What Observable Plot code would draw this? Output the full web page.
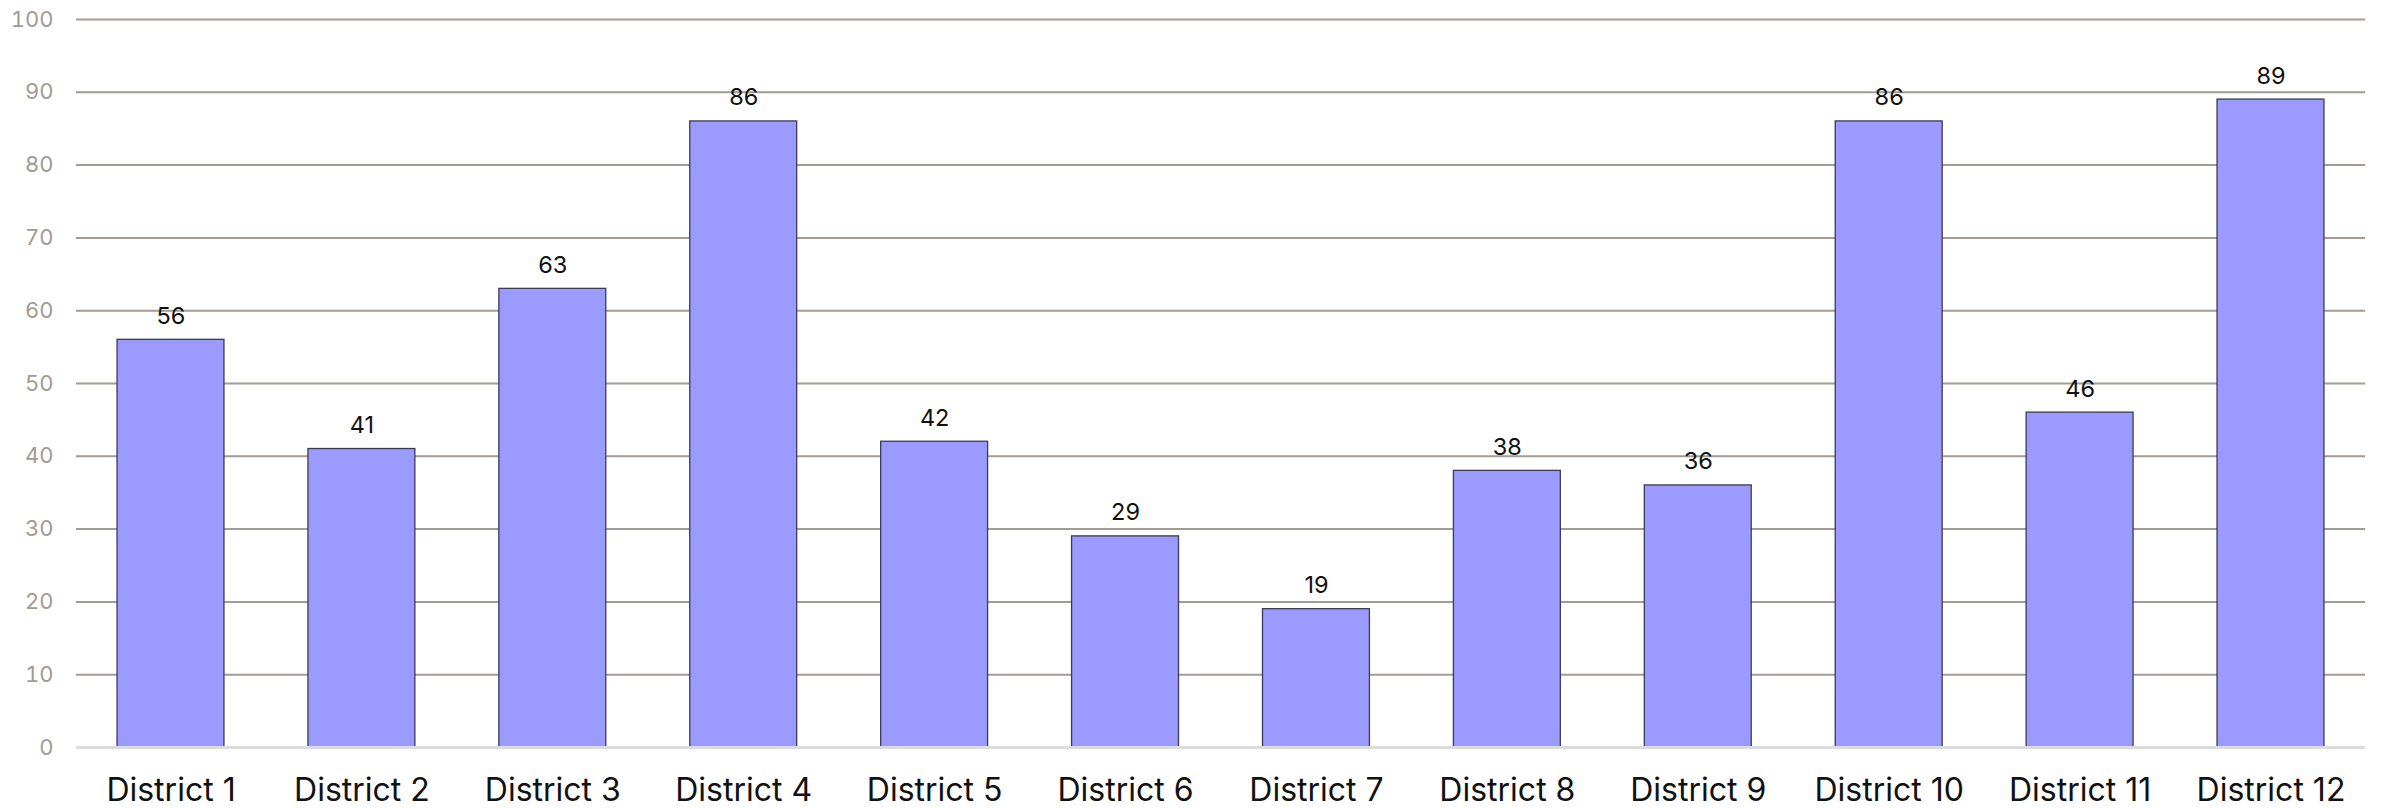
<!DOCTYPE html>
<html>
<head>
<meta charset="utf-8">
<script src="https://cdn.jsdelivr.net/npm/d3@7"></script>
<script src="https://cdn.jsdelivr.net/npm/@observablehq/plot@0.6"></script>
<style>
  html, body { margin: 0; padding: 0; background: #fff; }
  #chart svg { display: block; }
</style>
</head>
<body>
<div id="chart"></div>
<script>
const districts = ["District 1","District 2","District 3","District 4","District 5","District 6","District 7","District 8","District 9","District 10","District 11","District 12"];
const values = [56, 41, 63, 86, 42, 29, 19, 38, 36, 86, 46, 89];
const yTicks = [0, 10, 20, 30, 40, 50, 60, 70, 80, 90, 100];

const data = districts.map((d, i) => ({district: d, value: values[i]}));

const chart = Plot.plot({
  width: 2381,
  height: 808,
  marginLeft: 76,
  marginRight: 16,
  marginTop: 19,
  marginBottom: 61,
  style: {fontFamily: "Inter, sans-serif", background: "#fff"},
  x: {domain: districts, paddingInner: 0.44, paddingOuter: 0.215, round: false, label: null},
  y: {domain: [0, 100], label: null},
  marks: [
    Plot.ruleY(yTicks.filter(t => t > 0), {stroke: "#a39b94", strokeWidth: 2}),
    Plot.barY(data, {x: "district", y: "value", fill: "#9b9bff", stroke: "#3a3a5a", strokeWidth: 1.3}),
    Plot.ruleY([0], {stroke: "#dcdcdc", strokeWidth: 3}),
    Plot.text(data, {x: "district", y: "value", text: d => String(d.value), lineAnchor: "bottom", dy: -16, fontSize: 23.5, fill: "#111"}),
    Plot.axisY({ticks: yTicks, tickSize: 0, tickPadding: 23, fontSize: 22, color: "#a39a92", label: null}),
    Plot.axisX({tickSize: 0, tickPadding: 31, fontSize: 32, color: "#111", label: null})
  ]
});
document.getElementById("chart").append(chart);
</script>
</body>
</html>
